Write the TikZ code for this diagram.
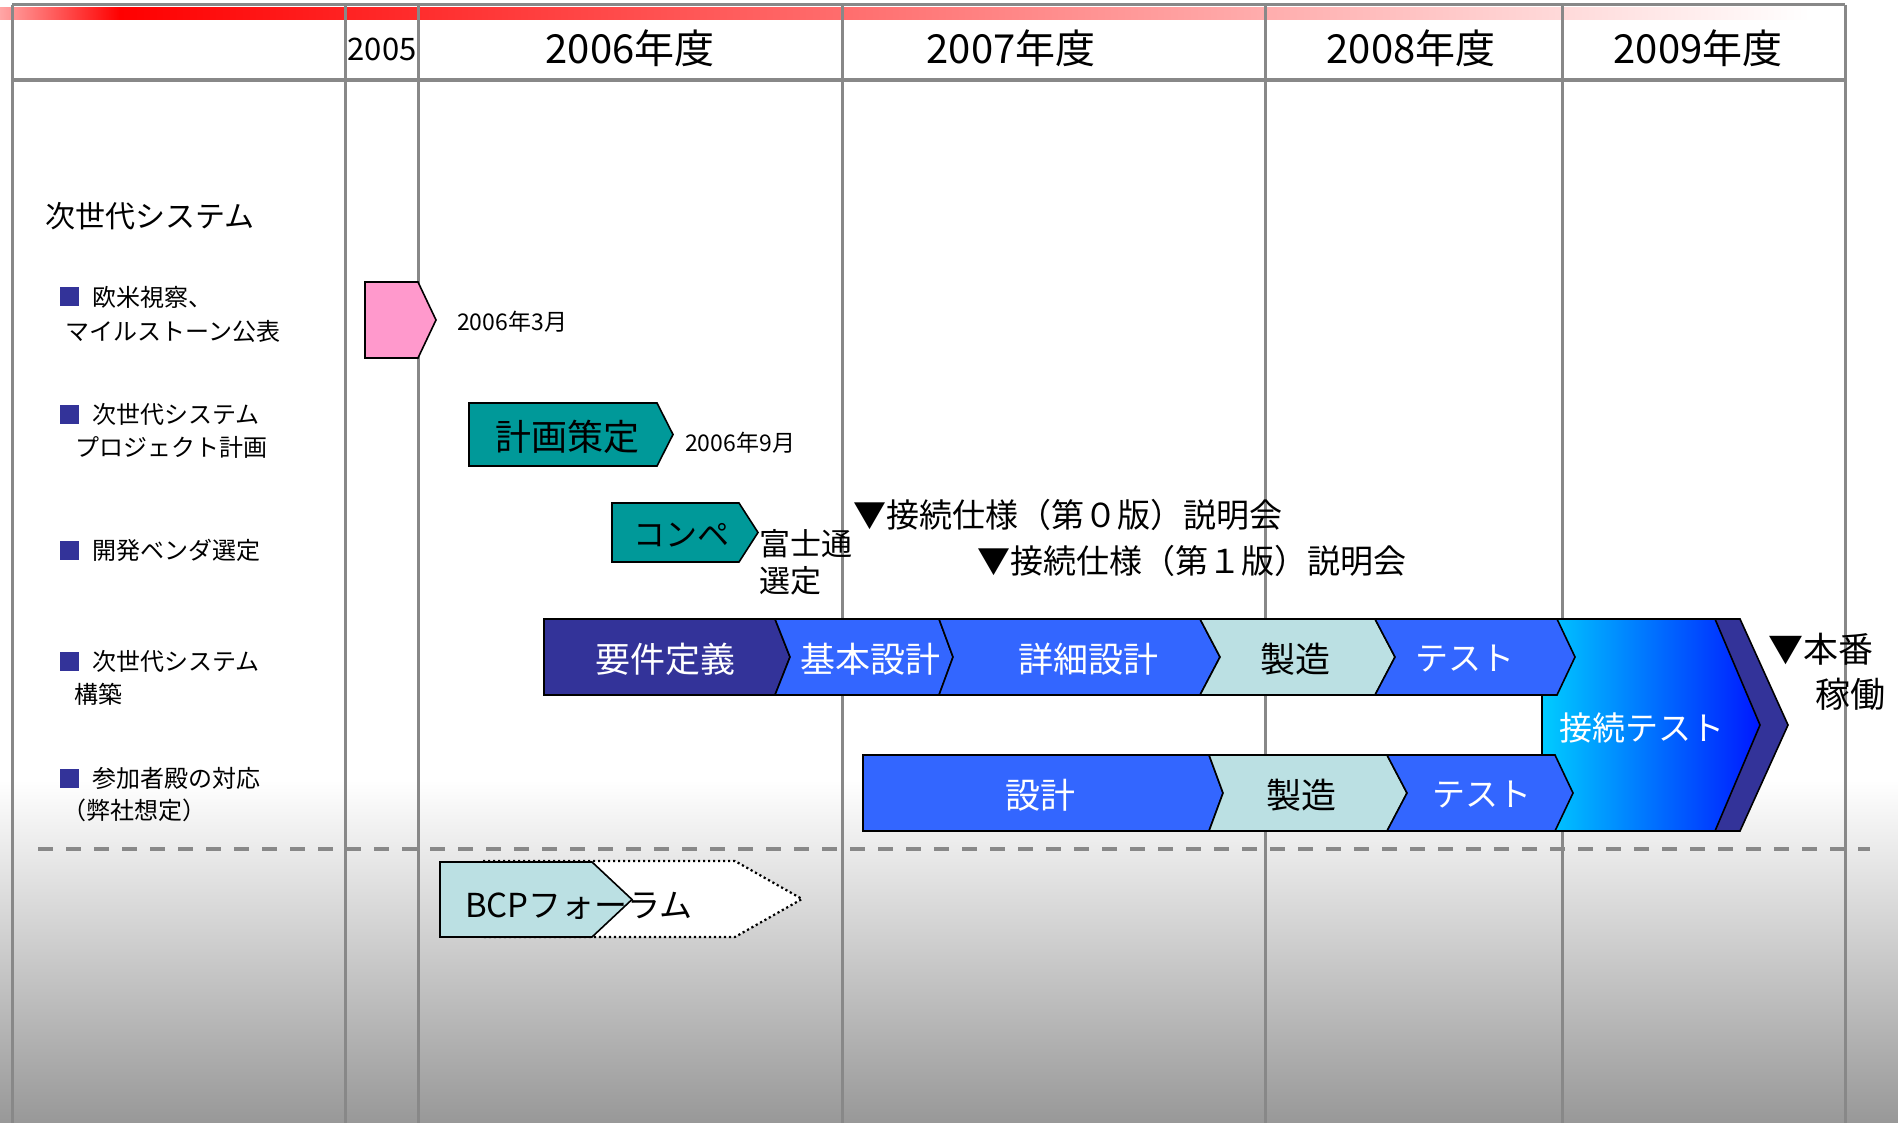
\documentclass[tikz,border=0pt]{standalone}
\usepackage{fontspec}
\setmainfont{Noto Sans CJK JP}
\usetikzlibrary{shadings}
\definecolor{navy}{HTML}{333399}
\definecolor{cblue}{HTML}{3366FF}
\definecolor{tealc}{HTML}{009999}
\definecolor{pinkc}{HTML}{FF99CC}
\definecolor{lightc}{HTML}{BBE0E3}
\definecolor{gridc}{HTML}{888888}
\definecolor{bggray}{HTML}{989898}
\definecolor{cyanc}{HTML}{00CCFF}
\definecolor{deepb}{HTML}{0018FF}
\newcommand\myfs[1]{\fontsize{#1}{#1}\selectfont}
% style, L, S, P, T, B
\newcommand\mypenta[6]{\path[#1] (#2,#5) -- (#3,#5) -- (#4,{(#5+#6)/2}) -- (#3,#6) -- (#2,#6) -- cycle;}
% style, L, d, S, P, T, B
\newcommand\mychevr[7]{\path[#1] (#2,#6) -- (#4,#6) -- (#5,{(#6+#7)/2}) -- (#4,#7) -- (#2,#7) -- ({#2+#3},{(#6+#7)/2}) -- cycle;}
\begin{document}
\begin{tikzpicture}[x=1pt,y=-1pt,
  shp/.style={draw=black, line width=1.6pt, line join=miter},
  grid/.style={draw=gridc, line width=3pt},
  txt/.style={inner sep=0pt},
  lbl/.style={txt, anchor=west, font=\myfs{24}},
  bul/.style={fill=navy, minimum size=19pt, inner sep=0pt},
  hdr/.style={txt, font=\myfs{40}},
  bar/.style={txt, font=\myfs{35}},
  wbar/.style={bar, text=white},
  note/.style={txt, anchor=west, font=\myfs{33}}]
\useasboundingbox (0,0) rectangle (1898,1123);
% background
\fill[white] (0,0) rectangle (1898,1123);
\shade[top color=white, bottom color=bggray] (0,780) rectangle (1898,1123);
% red bar
\shade[left color=red!35, right color=red] (0,8) rectangle (120,20);
\shade[left color=red, right color=white] (120,8) rectangle (1810,20);
% frame and grid
\draw[grid] (12,5) -- (1845,5);
\draw[draw=gridc, line width=4pt] (12,80) -- (1845,80);
\foreach \gx in {12,345,418,842,1265,1562,1845}
  \draw[grid] (\gx,5) -- (\gx,1123);
\draw[draw=gridc, line width=4pt, dash pattern=on 15pt off 13pt] (38,849) -- (1870,849);
% headers
\node[txt, font=\myfs{31}] (h05) at (382,49) {2005};
\node[hdr] (h06) at (630,48) {2006年度};
\node[hdr] (h07) at (1011,48) {2007年度};
\node[hdr] (h08) at (1411,48) {2008年度};
\node[hdr] (h09) at (1698,48) {2009年度};
% left labels
\node[txt, anchor=west, font=\myfs{30}] (title) at (45,216) {次世代システム};
\node[bul] (b1) at (69.5,297) {};
\node[lbl] (l1a) at (92,297) {欧米視察、};
\node[lbl] (l1b) at (65,331) {マイルストーン公表};
\node[bul] (b2) at (69.5,414) {};
\node[lbl] (l2a) at (92,414) {次世代システム};
\node[lbl] (l2b) at (75,447) {プロジェクト計画};
\node[bul] (b3) at (69.5,550) {};
\node[lbl] (l3a) at (92,550) {開発ベンダ選定};
\node[bul] (b4) at (69.5,661) {};
\node[lbl] (l4a) at (92,661) {次世代システム};
\node[lbl] (l4b) at (74,694) {構築};
\node[bul] (b5) at (69.5,778) {};
\node[lbl] (l5a) at (92,778) {参加者殿の対応};
\node[lbl] (l5b) at (62,810) {（弊社想定）};
% milestones
\mypenta{shp, fill=pinkc}{365}{418}{436}{282}{358}
\node[txt, anchor=west, font=\myfs{23}] (d1) at (457,322) {2006年3月};
\mypenta{shp, fill=tealc}{469}{657}{673}{403}{466}
\node[txt, font=\myfs{36}] (keikaku) at (567,437) {計画策定};
\node[txt, anchor=west, font=\myfs{23}] (d2) at (685,443) {2006年9月};
\mypenta{shp, fill=tealc}{612}{739}{758}{503}{562}
\node[txt, font=\myfs{32}] (compe) at (681,535) {コンペ};
\node[txt, anchor=west, font=\myfs{31}] (fuji) at (759,544) {富士通};
\node[txt, anchor=west, font=\myfs{31}] (sentei) at (759,581) {選定};
\node[note] (spec0) at (853,515) {▼接続仕様（第０版）説明会};
\node[note] (spec1) at (977,561) {▼接続仕様（第１版）説明会};
% connection test (behind rows)
\mypenta{shp, fill=navy}{1690}{1740}{1788}{619}{831}
\shade[left color=cyanc, right color=deepb] (1542,619) -- (1715,619) -- (1760,725) -- (1715,831) -- (1542,831) -- cycle;
\mypenta{shp}{1542}{1715}{1760}{619}{831}
\node[wbar, font=\myfs{33}] (ctest) at (1642,728) {接続テスト};
% row 1
\mypenta{shp, fill=navy}{544}{775}{790}{619}{695}
\mychevr{shp, fill=cblue}{775}{15}{939}{953}{619}{695}
\mychevr{shp, fill=cblue}{939}{14}{1200}{1220}{619}{695}
\mychevr{shp, fill=lightc}{1200}{20}{1375}{1395}{619}{695}
\mychevr{shp, fill=cblue}{1375}{20}{1557}{1575}{619}{695}
\node[wbar] (r1a) at (665,659) {要件定義};
\node[wbar] (r1b) at (870,659) {基本設計};
\node[wbar] (r1c) at (1088,659) {詳細設計};
\node[bar] (r1d) at (1295,659) {製造};
\node[wbar, font=\myfs{33}] (r1e) at (1465,659) {テスト};
% row 2
\mypenta{shp, fill=cblue}{863}{1209}{1223}{755}{831}
\mychevr{shp, fill=lightc}{1209}{14}{1387}{1407}{755}{831}
\mychevr{shp, fill=cblue}{1387}{20}{1555}{1573}{755}{831}
\node[wbar] (r2a) at (1040,795) {設計};
\node[bar] (r2b) at (1301,795) {製造};
\node[wbar, font=\myfs{33}] (r2c) at (1482,795) {テスト};
% go-live
\node[txt, anchor=west, font=\myfs{35}] (honban) at (1768,649) {▼本番};
\node[txt, anchor=west, font=\myfs{35}] (kadou) at (1815,694) {稼働};
% BCP forum
\mypenta{fill=white, draw=black, line width=2.2pt, dash pattern=on 2.2pt off 2.8pt}{483}{735}{802}{861}{937}
\mypenta{shp, fill=lightc}{440}{592}{632}{862}{937}
\node[txt, font=\myfs{33}] (bcp) at (579,906) {BCPフォーラム};
\end{tikzpicture}
\end{document}
